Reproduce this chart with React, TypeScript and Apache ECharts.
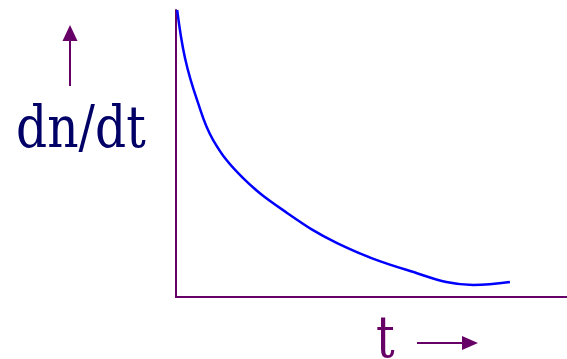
import React, { useEffect, useRef } from "react";
import * as echarts from "echarts";

const tValues = [0.3, 2.3, 5.4, 9.5, 17.1, 28.4, 41.2, 59.1, 76.0, 85.4];
const rateValues = [100, 83.3, 68.6, 54.7, 41.5, 29.3, 18.8, 9.4, 4.2, 5.2];
const yLabel = "dn/dt";
const xLabel = "t";

const AXIS = "#660066";
const SERIF = "DejaVu Serif";

export default function App() {
  const ref = useRef<HTMLDivElement>(null);
  useEffect(() => {
    const chart = echarts.init(ref.current!, null, { renderer: "svg" });
    chart.setOption({
      animation: false,
      grid: { left: 176, right: 0, top: 10, bottom: 62 },
      xAxis: {
        type: "value",
        min: 0,
        max: 100,
        axisLine: { show: true, onZero: false, lineStyle: { color: AXIS, width: 2 } },
        axisTick: { show: false },
        axisLabel: { show: false },
        splitLine: { show: false },
      },
      yAxis: {
        type: "value",
        min: 0,
        max: 100,
        axisLine: { show: true, onZero: false, lineStyle: { color: AXIS, width: 2 } },
        axisTick: { show: false },
        axisLabel: { show: false },
        splitLine: { show: false },
      },
      series: [
        {
          type: "line",
          data: tValues.map((t, i) => [t, rateValues[i]]),
          smooth: 0.4,
          symbol: "none",
          lineStyle: { color: "#0000ff", width: 2.5 },
        },
      ],
      graphic: [
        {
          type: "text",
          x: 16,
          y: 127,
          scaleX: 0.84,
          style: {
            x: 0,
            y: 0,
            text: yLabel,
            fill: "#000066",
            fontFamily: SERIF,
            fontSize: 58,
            align: "left",
            verticalAlign: "middle",
          },
        },
        {
          type: "line",
          shape: { x1: 70, y1: 86, x2: 70, y2: 40 },
          style: { stroke: AXIS, lineWidth: 2 },
        },
        {
          type: "polygon",
          shape: { points: [[70, 25], [62.5, 41], [77.5, 41]] },
          style: { fill: AXIS },
        },
        {
          type: "text",
          x: 376,
          y: 337,
          scaleX: 0.8,
          style: {
            x: 0,
            y: 0,
            text: xLabel,
            fill: AXIS,
            fontFamily: SERIF,
            fontSize: 58,
            lineHeight: 40,
            align: "left",
            verticalAlign: "middle",
          },
        },
        {
          type: "line",
          shape: { x1: 417, y1: 343, x2: 464, y2: 343 },
          style: { stroke: AXIS, lineWidth: 2 },
        },
        {
          type: "polygon",
          shape: { points: [[478, 343], [462, 336], [462, 350]] },
          style: { fill: AXIS },
        },
      ],
    });
    return () => chart.dispose();
  }, []);
  return <div ref={ref} style={{ width: 567, height: 359, position: "absolute", left: 0, top: 0 }} />;
}
